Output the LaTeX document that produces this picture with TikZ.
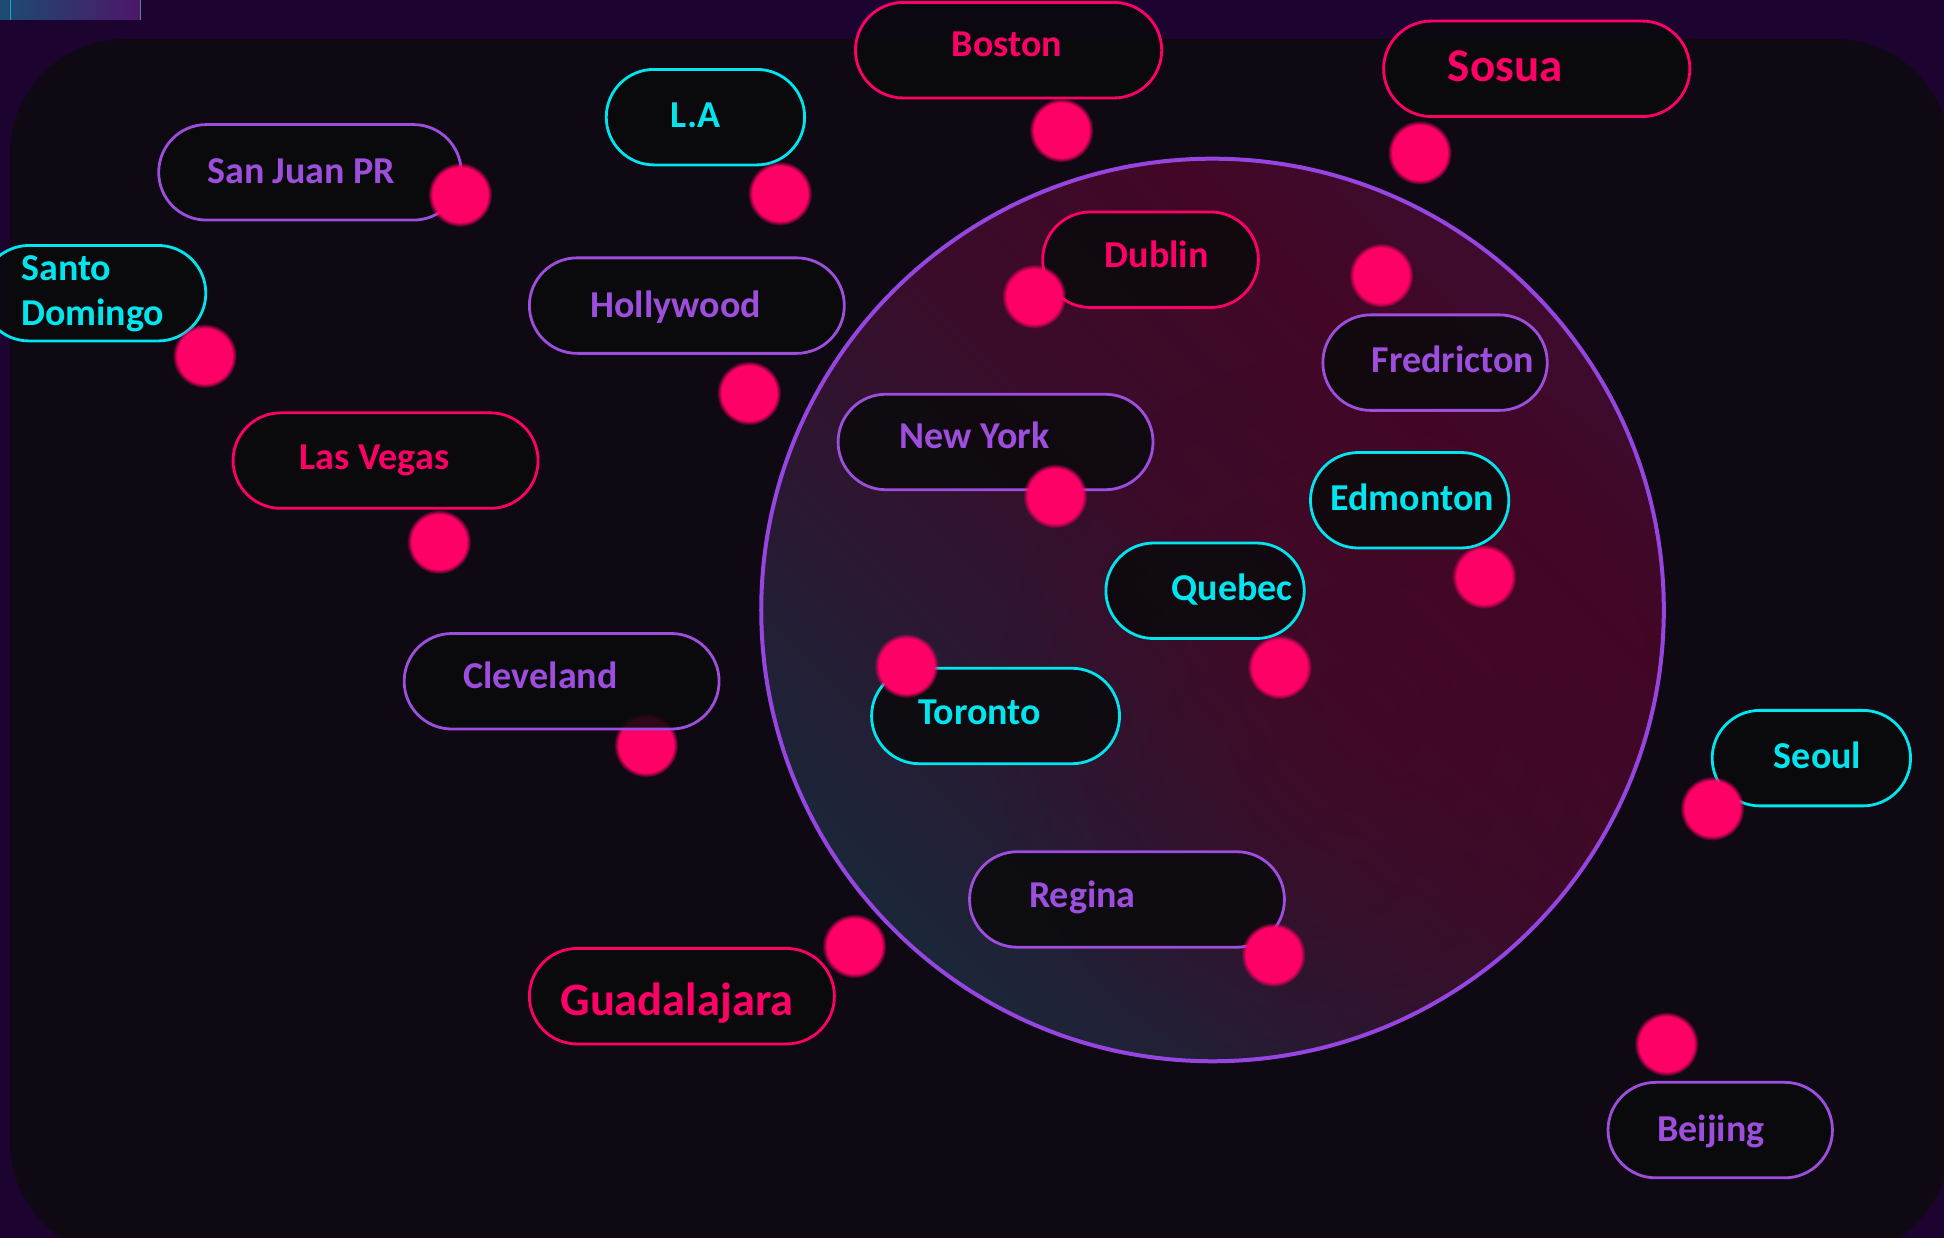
\documentclass[tikz,border=0pt]{standalone}
\usepackage{fontspec}
\setmainfont{Carlito}
\usetikzlibrary{fadings}
\definecolor{outerbg}{HTML}{1C0330}
\definecolor{innerbg}{HTML}{0E0912}
\definecolor{pinkc}{HTML}{FF0066}
\definecolor{cyanc}{HTML}{00E5EE}
\definecolor{purpc}{HTML}{9D4EDD}
\definecolor{ringc}{HTML}{9645E0}
\definecolor{pillfill}{HTML}{0A0A0C}
\definecolor{tealc}{HTML}{162C3C}
\definecolor{duskc}{HTML}{2A1832}
\definecolor{midc}{HTML}{3A0C2A}
\definecolor{crimc}{HTML}{420726}
\definecolor{plumc}{HTML}{3A0F33}
\definecolor{glowc}{HTML}{4C0420}
\definecolor{stripl}{HTML}{1A4C72}
\definecolor{stripm}{HTML}{6C0A46}
\definecolor{stripr}{HTML}{4E1668}
\definecolor{stripline}{HTML}{1AA8C8}
\pgfdeclareverticalshading{circsh}{100bp}{color(0bp)=(tealc); color(20bp)=(tealc); color(38bp)=(duskc); color(52bp)=(midc); color(66bp)=(crimc); color(82bp)=(plumc); color(100bp)=(plumc)}
\tikzfading[name=glowfade, inner color=transparent!55, outer color=transparent!100]
\begin{document}
\begin{tikzpicture}[x=1.2398pt,y=-1.2398pt,
  pill/.style={draw, line width=2.8pt, fill=pillfill, fill opacity=0.85, draw opacity=1,
    rectangle, rounded corners=47.7pt, minimum height=95.5pt, inner sep=0pt},
  pillw/.style={minimum width=#1*1.2398pt},
  lbl/.style={anchor=base, inner sep=0pt, font=\fontsize{38}{42}\selectfont\bfseries},
  biglbl/.style={anchor=base, inner sep=0pt, font=\fontsize{47}{52}\selectfont\bfseries},
  midlbl/.style={anchor=base, inner sep=0pt, font=\fontsize{46.5}{50}\selectfont\bfseries},
  dot/.style={fill=pinkc, path fading=circle with fuzzy edge 15 percent}]
\useasboundingbox (0,0) rectangle (1568,998.5);
\clip (0,0) rectangle (1568,998.5);
% backgrounds
\fill[outerbg] (-5,-5) rectangle (1575,1005);
\fill[innerbg, rounded corners=115pt] (8.07,31.46) rectangle (1572.8,1013.9);
\shade[left color=stripl, middle color=stripm, right color=stripr] (0,0) rectangle (113.7,16.1);
\draw[stripline, line width=1pt] (8.07,0) -- (8.07,16.1);
\draw[stripl!70!white, line width=0.8pt] (113.4,0) -- (113.4,16.1);
% big circle
\shade[shading=circsh, shading angle=-45] (978,492) circle (364);
\begin{scope}
  \clip (978,492) circle (364);
  \fill[glowc, path fading=glowfade] (1100,580) circle (300);
\end{scope}
\draw[ringc, line width=4pt] (978,492) circle (364);
% Cleveland dot lies behind its pill
\fill[dot] (521,601) circle (26);
% pills
\node[pill, pillw=244, draw=purpc] (sanjuan) at (250,139) {};
\node[pill, pillw=160, draw=cyanc] (la) at (569,94.5) {};
\node[pill, pillw=247, draw=pinkc] (boston) at (813.5,40.5) {};
\node[pill, pillw=247, draw=pinkc] (sosua) at (1239.5,55.5) {};
\node[pill, pillw=181, draw=cyanc] (santo) at (75.5,236.5) {};
\node[pill, pillw=254, draw=purpc] (hollywood) at (554,246.5) {};
\node[pill, pillw=174, draw=pinkc] (dublin) at (928,209.5) {};
\node[pill, pillw=181, draw=purpc] (fredricton) at (1157.5,292.5) {};
\node[pill, pillw=254, draw=purpc] (newyork) at (803,356.5) {};
\node[pill, pillw=246, draw=pinkc] (lasvegas) at (311,371.5) {};
\node[pill, pillw=160, draw=cyanc] (edmonton) at (1137,403.5) {};
\node[pill, pillw=160, draw=cyanc] (quebec) at (972,476.5) {};
\node[pill, pillw=254, draw=purpc] (cleveland) at (453,549.5) {};
\node[pill, pillw=200, draw=cyanc] (toronto) at (803,577.5) {};
\node[pill, pillw=160, draw=cyanc] (seoul) at (1461,611.5) {};
\node[pill, pillw=254, draw=purpc] (regina) at (909,725.5) {};
\node[pill, pillw=246, draw=pinkc] (guadalajara) at (550,803.5) {};
\node[pill, pillw=181, draw=purpc] (beijing) at (1387.5,911.5) {};
% labels
\node[lbl, text=purpc] (tsanjuan) at (243,147.7) {San Juan PR};
\node[lbl, text=cyanc] (tla) at (561,102.7) {L.A};
\node[lbl, text=pinkc] (tboston) at (812,45.7) {Boston};
\node[biglbl, text=pinkc] (tsosua) at (1214,66) {Sosua};
\node[lbl, text=cyanc, anchor=base west] (tsantoa) at (17,226.3) {Santo};
\node[lbl, text=cyanc, anchor=base west] (tsantob) at (17,262.6) {Domingo};
\node[lbl, text=purpc] (thollywood) at (545,255.7) {Hollywood};
\node[lbl, text=pinkc] (tdublin) at (933,215.7) {Dublin};
\node[lbl, text=purpc] (tfredricton) at (1172,300.7) {Fredricton};
\node[lbl, text=purpc] (tnewyork) at (786,361.7) {New York};
\node[lbl, text=pinkc] (tlasvegas) at (302,378.7) {Las Vegas};
\node[lbl, text=cyanc] (tedmonton) at (1139,411.7) {Edmonton};
\node[lbl, text=cyanc] (tquebec) at (994,484.7) {Quebec};
\node[lbl, text=purpc] (tcleveland) at (436,555.7) {Cleveland};
\node[lbl, text=cyanc] (ttoronto) at (790,584.7) {Toronto};
\node[lbl, text=cyanc] (tseoul) at (1466,619.7) {Seoul};
\node[lbl, text=purpc] (tregina) at (873,731.7) {Regina};
\node[midlbl, text=pinkc] (tguadalajara) at (546,818.7) {Guadalajara};
\node[lbl, text=purpc] (tbeijing) at (1380,920.7) {Beijing};
% dots
\fill[dot] (371,157) circle (26);
\fill[dot] (629,156) circle (26);
\fill[dot] (856,105) circle (26);
\fill[dot] (1145,123) circle (26);
\fill[dot] (165,287) circle (26);
\fill[dot] (604,317) circle (26);
\fill[dot] (834,239) circle (26);
\fill[dot] (1114,222) circle (26);
\fill[dot] (851,400) circle (26);
\fill[dot] (354,437) circle (26);
\fill[dot] (1197,465) circle (26);
\fill[dot] (1032,538) circle (26);
\fill[dot] (731,537) circle (26);
\fill[dot] (1381,652) circle (26);
\fill[dot] (1027,770) circle (26);
\fill[dot] (689,763) circle (26);
\fill[dot] (1344,842) circle (26);
\end{tikzpicture}
\end{document}
